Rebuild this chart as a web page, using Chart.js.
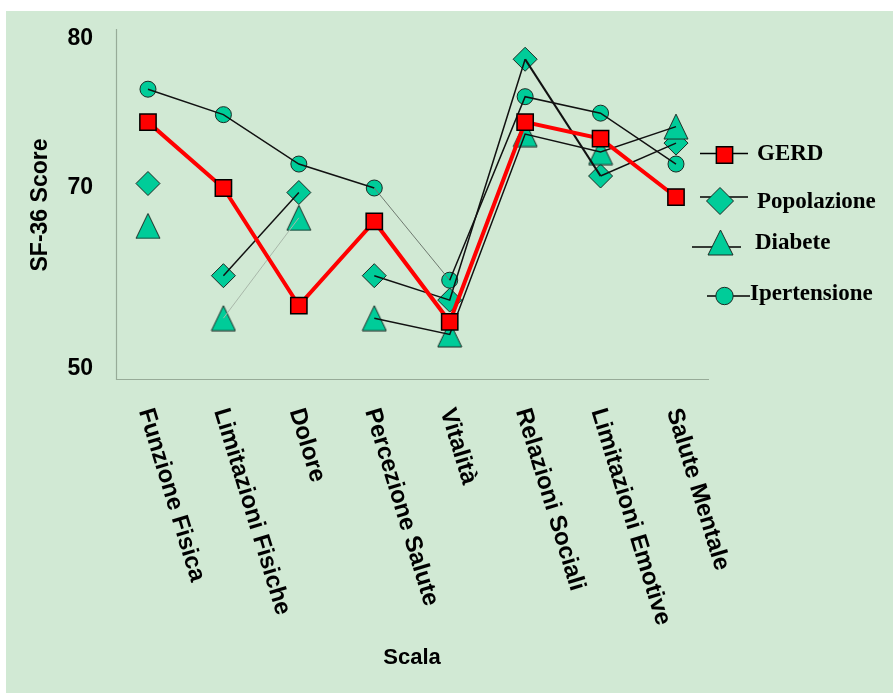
<!DOCTYPE html>
<html lang="it">
<head>
<meta charset="utf-8">
<title>SF-36 Score per scala</title>
<script src="https://cdn.jsdelivr.net/npm/chart.js@4/dist/chart.umd.min.js"></script>
<style>
  html, body { margin: 0; padding: 0; background: #ffffff; overflow: hidden; }
  canvas { display: block; }
</style>
</head>
<body>
<canvas id="chart" width="893" height="693"></canvas>
<script>
// SF-36 scales (x axis)
const categories = [
  'Funzione Fisica', 'Limitazioni Fisiche', 'Dolore', 'Percezione Salute',
  'Vitalità', 'Relazioni Sociali', 'Limitazioni Emotive', 'Salute Mentale'
];

// Mean SF-36 score per scale, for each group
const gerd         = [74.4, 70.0, 57.0, 66.3, 55.2, 74.4, 73.3, 69.0];
const popolazione  = [70.3, 60.3, 69.5, 60.3, 57.6, 78.6, 70.8, 73.0];
const diabete      = [65.8, 55.6, 66.7, 55.6, 53.8, 73.6, 72.4, 74.1];
const ipertensione = [76.6, 74.9, 71.6, 70.0, 59.8, 76.1, 75.0, 71.6];

const seriesNames = ['GERD', 'Popolazione', 'Diabete', 'Ipertensione'];
const yTickValues = [50, 70, 80];
const yTitle = 'SF-36 Score';
const xTitle = 'Scala';

// ---------------------------------------------------------------------------
// Value axis made of two linear pieces joined at a break value
class BrokenLinearScale extends Chart.LinearScale {
  getPixelForValue(value) {
    const b = this.options.breakValue, f = this.options.breakFraction;
    const frac = value <= b
      ? (value - this.min) / (b - this.min) * f
      : f + (value - b) / (this.max - b) * (1 - f);
    return this.getPixelForDecimal(frac);
  }
  getValueForPixel(pixel) {
    const b = this.options.breakValue, f = this.options.breakFraction;
    const d = this.getDecimalForPixel(pixel);
    return d <= f
      ? this.min + d / f * (b - this.min)
      : b + (d - f) / (1 - f) * (this.max - b);
  }
}
BrokenLinearScale.id = 'brokenLinear';
BrokenLinearScale.defaults = {};
Chart.register(BrokenLinearScale);

// ---------------------------------------------------------------------------
// Styles
const BG_COLOR = '#d1e9d4';
const TEAL = '#00cc99';
const OUTLINE = '#1c2b24';
const RED = '#ff0000';
const AXIS_COLOR = '#97ab98';
const LABEL_ANGLE = 73; // degrees, clockwise

// Connector drawn from each point to the next one (null = no connector)
const linkStyles = {
  solid: { color: '#111111', width: 1.5 },
  heavy: { color: '#111111', width: 2.2 },
  thin:  { color: '#6f7a70', width: 1 },
  faint: { color: '#a9b8aa', width: 1 }
};
const ipertensioneLinks = ['solid', 'solid', 'solid', 'thin', 'solid', 'solid', 'solid'];
const popolazioneLinks  = [null, 'solid', null, 'solid', 'solid', 'heavy', 'solid'];
const diabeteLinks      = [null, 'faint', null, 'solid', 'solid', 'solid', 'solid'];

// Triangle marker (slightly taller than equilateral)
function makeTriangle(w, h) {
  const c = document.createElement('canvas');
  c.width = w + 2; c.height = h + 2;
  const g = c.getContext('2d');
  g.beginPath();
  g.moveTo(c.width / 2, 1);
  g.lineTo(c.width - 1, h + 1);
  g.lineTo(1, h + 1);
  g.closePath();
  g.fillStyle = TEAL;
  g.fill();
  g.lineWidth = 1;
  g.strokeStyle = OUTLINE;
  g.stroke();
  return c;
}
const triangleMarker = makeTriangle(24, 25);
const triangleLegend = makeTriangle(25, 25);

const toPoints = values => values.map((v, i) => ({ x: i, y: v }));

function connectorDataset(values, links) {
  return {
    data: toPoints(values),
    showLine: true,
    pointRadius: 0,
    pointHoverRadius: 0,
    borderColor: '#111111',
    borderWidth: 1.5,
    fill: false,
    order: 2,
    segment: {
      borderColor: ctx => {
        const s = links[ctx.p0DataIndex];
        return s ? linkStyles[s].color : 'rgba(0,0,0,0)';
      },
      borderWidth: ctx => {
        const s = links[ctx.p0DataIndex];
        return s ? linkStyles[s].width : 0;
      }
    }
  };
}

function markerDataset(values, style, radius, order) {
  return {
    data: toPoints(values),
    showLine: false,
    pointStyle: style,
    pointRadius: radius,
    pointHoverRadius: radius,
    pointBackgroundColor: TEAL,
    pointBorderColor: OUTLINE,
    pointBorderWidth: 1,
    order: order
  };
}

// ---------------------------------------------------------------------------
// Background, axes, tick labels, titles and legend
const decorations = {
  id: 'decorations',
  beforeDraw(chart) {
    const ctx = chart.ctx;
    ctx.save();
    ctx.fillStyle = '#ffffff';
    ctx.fillRect(0, 0, chart.width, chart.height);
    ctx.fillStyle = BG_COLOR;
    ctx.fillRect(6, 11, chart.width - 6, chart.height - 11);
    ctx.restore();
  },
  beforeDatasetsDraw(chart) {
    const ctx = chart.ctx;
    const a = chart.chartArea;
    const xs = chart.scales.x, ys = chart.scales.y;
    ctx.save();
    // axis lines
    ctx.strokeStyle = AXIS_COLOR;
    ctx.lineWidth = 1.2;
    ctx.beginPath();
    ctx.moveTo(a.left + 0.5, a.top);
    ctx.lineTo(a.left + 0.5, a.bottom + 0.5);
    ctx.lineTo(a.right, a.bottom + 0.5);
    ctx.stroke();

    ctx.fillStyle = '#000000';
    // y tick labels
    ctx.font = 'bold 23px "Liberation Sans", Arial, sans-serif';
    ctx.textAlign = 'right';
    ctx.textBaseline = 'middle';
    yTickValues.forEach(v => ctx.fillText(String(v), 93, ys.getPixelForValue(v)));

    // x category labels, turned clockwise
    ctx.font = 'bold 24px "Liberation Sans", Arial, sans-serif';
    ctx.textAlign = 'left';
    ctx.textBaseline = 'middle';
    categories.forEach((c, i) => {
      ctx.save();
      ctx.translate(xs.getPixelForValue(i) - 3, 409);
      ctx.rotate(LABEL_ANGLE * Math.PI / 180);
      ctx.fillText(c, 0, 0);
      ctx.restore();
    });

    // axis titles
    ctx.font = 'bold 23px "Liberation Sans", Arial, sans-serif';
    ctx.textAlign = 'center';
    ctx.textBaseline = 'middle';
    ctx.save();
    ctx.translate(41, 205);
    ctx.rotate(-Math.PI / 2);
    ctx.fillText(yTitle, 0, 0);
    ctx.restore();
    ctx.font = 'bold 22px "Liberation Sans", Arial, sans-serif';
    ctx.fillText(xTitle, 412, 658);
    ctx.restore();
  },
  afterDraw(chart) {
    const ctx = chart.ctx;
    const items = [
      { marker: { pointStyle: 'rect', radius: 11.5, fill: RED, border: '#000', bw: 1.5 },
        lx0: 700, lx1: 748, ly: 153.5, mx: 724.5, my: 155, tx: 757, ty: 159.5 },
      { marker: { pointStyle: 'rectRot', radius: 13.5, fill: TEAL, border: OUTLINE, bw: 1 },
        lx0: 700, lx1: 748, ly: 197, mx: 720, my: 201, tx: 757, ty: 207.5 },
      { marker: { pointStyle: triangleLegend, radius: 13, fill: TEAL, border: OUTLINE, bw: 1 },
        lx0: 692, lx1: 741, ly: 247, mx: 720.5, my: 242.5, tx: 755, ty: 248.5 },
      { marker: { pointStyle: 'circle', radius: 8.7, fill: TEAL, border: OUTLINE, bw: 1 },
        lx0: 707, lx1: 750, ly: 296, mx: 724.5, my: 296, tx: 750, ty: 299.5 }
    ];
    ctx.save();
    items.forEach((it, i) => {
      ctx.strokeStyle = '#000000';
      ctx.lineWidth = 1.5;
      ctx.beginPath();
      ctx.moveTo(it.lx0, it.ly);
      ctx.lineTo(it.lx1, it.ly);
      ctx.stroke();
      ctx.fillStyle = it.marker.fill;
      ctx.strokeStyle = it.marker.border;
      ctx.lineWidth = it.marker.bw;
      Chart.helpers.drawPoint(ctx, {
        pointStyle: it.marker.pointStyle,
        radius: it.marker.radius,
        rotation: 0,
        borderWidth: it.marker.bw
      }, it.mx, it.my);
      ctx.fillStyle = '#000000';
      ctx.font = 'bold 23px "Liberation Serif", "Times New Roman", serif';
      ctx.textAlign = 'left';
      ctx.textBaseline = 'alphabetic';
      ctx.fillText(seriesNames[i], it.tx, it.ty);
    });
    ctx.restore();
  }
};

// ---------------------------------------------------------------------------
new Chart(document.getElementById('chart'), {
  type: 'line',
  data: {
    datasets: [
      {
        label: seriesNames[0],
        data: toPoints(gerd),
        borderColor: RED,
        borderWidth: 4,
        pointStyle: 'rect',
        pointRadius: 11.5,
        pointHoverRadius: 11.5,
        pointBackgroundColor: RED,
        pointBorderColor: '#000000',
        pointBorderWidth: 1.5,
        fill: false,
        order: 0
      },
      Object.assign({ label: seriesNames[3] }, connectorDataset(ipertensione, ipertensioneLinks)),
      Object.assign({ label: seriesNames[1] }, connectorDataset(popolazione, popolazioneLinks)),
      Object.assign({ label: seriesNames[2] }, connectorDataset(diabete, diabeteLinks)),
      Object.assign({ label: seriesNames[2] }, markerDataset(diabete, triangleMarker, 12, 5)),
      Object.assign({ label: seriesNames[3] }, markerDataset(ipertensione, 'circle', 8, 6)),
      Object.assign({ label: seriesNames[1] }, markerDataset(popolazione, 'rectRot', 12, 7))
    ]
  },
  options: {
    responsive: false,
    devicePixelRatio: 1,
    animation: false,
    events: [],
    clip: false,
    layout: { padding: { left: 116, top: 29, right: 184, bottom: 314 } },
    plugins: {
      legend: { display: false },
      tooltip: { enabled: false },
      title: { display: false }
    },
    scales: {
      x: {
        type: 'linear',
        display: false,
        bounds: 'data',
        min: -0.424,
        max: 7.4375
      },
      y: {
        type: 'brokenLinear',
        display: false,
        bounds: 'data',
        min: 48.87,
        max: 80.62,
        breakValue: 70,
        breakFraction: 0.5457
      }
    }
  },
  plugins: [decorations]
});
</script>
</body>
</html>
